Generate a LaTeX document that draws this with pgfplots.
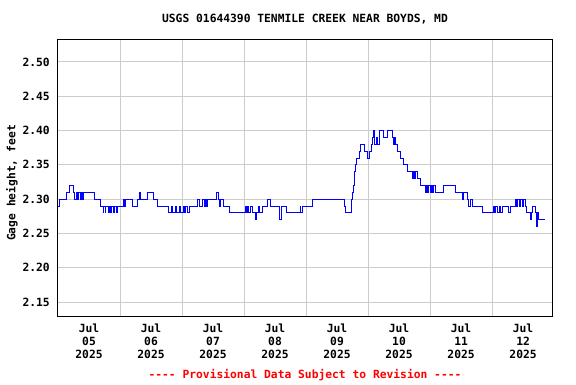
\documentclass[border=0pt]{standalone}
\usepackage{fontspec}
\setmainfont{DejaVu Sans Mono}
\usepackage{pgfplots}
\pgfplotsset{compat=1.18}
\newcommand{\dashes}{-\kern0pt-\kern0pt-\kern0pt-}
\begin{document}
\begin{tikzpicture}[font=\bfseries\fontsize{11.3}{13}\selectfont]
\path[use as bounding box] (-58pt,-68pt) rectangle (518pt,316pt);
\begin{axis}[
  at={(0pt,0pt)}, anchor=south west,
  scale only axis, width=494pt, height=277pt,
  xmin=0, xmax=191.2, ymin=2.1296, ymax=2.5335,
  axis line style={black, line width=1pt},
  xtick={12,36,60,84,108,132,156,180},
  xticklabels={{Jul\\05\\2025},{Jul\\06\\2025},{Jul\\07\\2025},{Jul\\08\\2025},{Jul\\09\\2025},{Jul\\10\\2025},{Jul\\11\\2025},{Jul\\12\\2025}},
  minor xtick={24,48,72,96,120,144,168},
  ytick={2.15,2.20,2.25,2.30,2.35,2.40,2.45,2.50},
  yticklabels={2.15,2.20,2.25,2.30,2.35,2.40,2.45,2.50},
  xmajorgrids=false, xminorgrids=true, ymajorgrids=true,
  grid style={color=black!20, line width=1pt},
  minor grid style={color=black!20, line width=1pt},
  major tick length=0pt, minor tick length=0pt,
  xticklabel style={align=center, anchor=north, inner sep=0pt, yshift=-8pt},
  yticklabel style={anchor=east, inner sep=0pt, xshift=-8pt},
]
\addplot[const plot, blue, line width=0.9pt] coordinates {
(0,2.29) (0.5,2.30) (3.4,2.31) (4.6,2.32) (6.0,2.31) (6.5,2.30) (7.0,2.31) (7.5,2.30) (8.0,2.31) (8.5,2.30) (9.0,2.31) (9.5,2.30) (10.0,2.31)
(14.3,2.30) (16.3,2.29) (17.4,2.28) (17.7,2.29) (18.2,2.28) (18.5,2.29) (19.4,2.28) (19.8,2.29) (20.3,2.28) (20.8,2.29) (21.3,2.28) (22.0,2.29) (22.5,2.28) (23.2,2.29)
(25.2,2.30) (25.6,2.29) (26.0,2.30) (29.0,2.29) (30.6,2.30) (31.5,2.31) (31.9,2.30) (34.5,2.31) (36.8,2.30) (38.3,2.29) (42.6,2.28)
(44.0,2.29) (44.3,2.28) (45.5,2.29) (45.8,2.28) (47.0,2.29) (47.3,2.28) (48.4,2.29) (49.0,2.28) (49.5,2.29) (50.0,2.28) (51.0,2.29)
(53.8,2.30) (54.6,2.29) (56.1,2.30) (56.5,2.29) (57.0,2.30) (57.5,2.29) (58.0,2.30) (61.5,2.31) (62.0,2.30) (62.5,2.29) (63.0,2.30) (64.0,2.29)
(66.2,2.28) (72.4,2.29) (72.8,2.28) (73.3,2.29) (73.8,2.28) (74.5,2.29) (75.1,2.28) (76.6,2.27) (77.0,2.28) (77.5,2.29) (78.0,2.28) (79.0,2.29)
(80.9,2.30) (82.1,2.29) (85.9,2.27) (86.3,2.29) (88.6,2.28) (93.7,2.29) (94.0,2.28) (94.5,2.29) (98.3,2.30)
(111.0,2.29) (111.3,2.28) (113.6,2.30) (113.9,2.31) (114.2,2.32) (114.6,2.33) (114.9,2.34) (115.2,2.35) (115.7,2.36) (116.5,2.37) (116.9,2.38)
(118.8,2.37) (119.6,2.36) (120.4,2.37) (121.2,2.38) (121.6,2.39) (121.9,2.40) (122.3,2.38) (123.1,2.39) (123.5,2.38) (124.6,2.40) (125.8,2.39)
(127.4,2.40) (129.3,2.39) (129.8,2.38) (130.3,2.39) (130.6,2.38) (131.2,2.37) (132.4,2.36) (133.6,2.35) (135.1,2.34) (137.0,2.33) (137.4,2.34)
(137.8,2.33) (138.3,2.34) (139.0,2.33) (140.1,2.32) (142.1,2.31) (142.5,2.32) (143.0,2.31) (143.5,2.32) (144.0,2.31) (144.4,2.32) (144.8,2.31)
(145.5,2.32) (145.9,2.31) (149.0,2.32) (153.7,2.31) (156.4,2.30) (156.8,2.31) (158.3,2.30) (158.7,2.29) (159.5,2.30) (160.6,2.29) (164.1,2.28)
(168.4,2.29) (168.8,2.28) (169.5,2.29) (170.0,2.28) (170.8,2.29) (171.2,2.28) (171.9,2.29) (174.2,2.28) (175.0,2.29) (176.9,2.30) (177.3,2.29)
(177.7,2.30) (178.5,2.29) (179.0,2.30) (179.7,2.29) (180.2,2.30) (181.0,2.29) (181.5,2.28) (182.7,2.27) (183.1,2.28) (183.5,2.29) (184.6,2.28)
(185.0,2.26) (185.4,2.28) (185.8,2.27) (188.5,2.27)
};
\end{axis}
\node at (247pt,297pt) {USGS 01644390 TENMILE CREEK NEAR BOYDS, MD};
\node[rotate=90] at (-46pt,133pt) {Gage height, feet};
\node[text=red] at (247pt,-59pt) {\dashes\ Provisional Data Subject to Revision \dashes};
\end{tikzpicture}
\end{document}
